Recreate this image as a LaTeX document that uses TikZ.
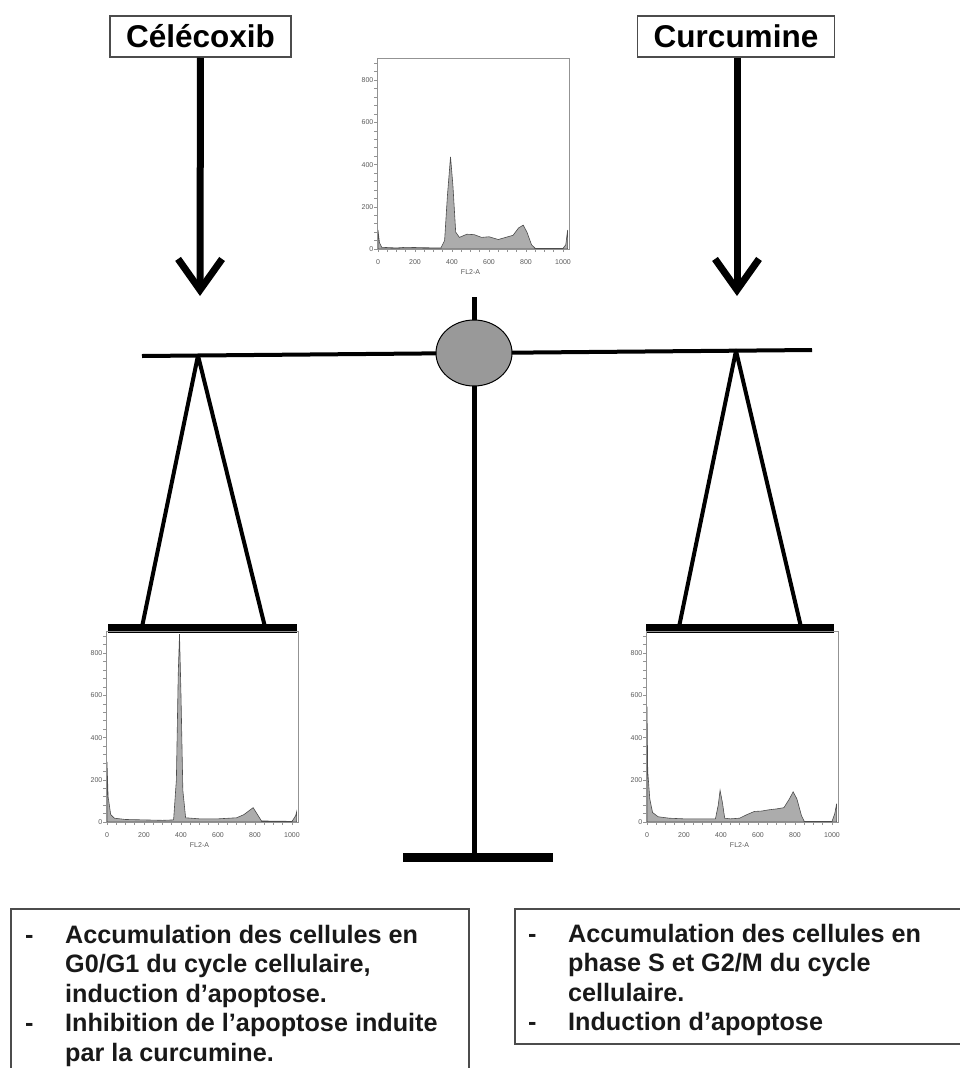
\documentclass[tikz,border=0pt]{standalone}
\usepackage{fontspec}
\setmainfont{Liberation Sans}
\usepackage{tikz}
\usetikzlibrary{arrows.meta}

% histogramme (origine x, origine y, points)
\newcommand{\histogramme}[3]{%
  \begin{scope}[shift={(#1,#2)}, xscale=0.185, yscale=-0.211]
    \filldraw[histfill] plot coordinates {#3} -- cycle;
    \draw[histframe] (-5,0) rectangle (1032,905);
    \foreach \t in {0,40,...,880} \draw[histframe] (-5,\t) -- ++(-14,0);
    \foreach \t in {0,50,...,1000} \draw[histframe] (\t,0) -- ++(0,-12);
    \foreach \v in {0,200,...,800} \node[histlabel, anchor=east] at (-24,\v) {\v};
    \foreach \v in {0,200,...,1000} \node[histlabel] at (\v,-64) {\v};
    \node[histlabel] at (500,-110) {FL2-A};
  \end{scope}}

\begin{document}
\begin{tikzpicture}[x=1pt, y=-1pt, >={Straight Barb[length=31pt, width=44pt]},
  drugbox/.style={draw=black!70, line width=1.5pt, fill=white, minimum height=41pt, inner sep=0pt, font=\fontsize{31.5}{36}\selectfont\bfseries},
  effectbox/.style={draw=black!70, line width=1.5pt, anchor=north west, inner sep=0pt},
  effecttext/.style={anchor=north west, inner sep=0pt, align=left, text=black!90, font=\fontsize{25.2}{29.5}\selectfont\bfseries},
  histfill/.style={fill=gray!65, draw=gray!60!black, line width=0.6pt},
  histframe/.style={draw=gray!85, line width=0.6pt},
  histlabel/.style={font=\fontsize{7}{8}\selectfont, text=gray!70!black, inner sep=0pt},
  beam/.style={line width=4pt, line join=round},
  plate/.style={line width=9pt}]
  \useasboundingbox (0,0) rectangle (959,1068);

  % 点
  \coordinate (beamL) at (142,356);
  \coordinate (beamR) at (812,350);
  \coordinate (pivot) at (474,353);
  \coordinate (postT) at (474,297);
  \coordinate (postB) at (474,857);
  \coordinate (apexL) at (198,355.5);
  \coordinate (apexR) at (736,350.7);
  \coordinate (panL1) at (142,627);
  \coordinate (panL2) at (265,627);
  \coordinate (panR1) at (679,627);
  \coordinate (panR2) at (801,627);
  \coordinate (hitL) at (200,296);
  \coordinate (hitR) at (737,296);

  % 天平
  \draw[line width=5pt] (postT) -- (postB);
  \draw[plate] (403,857) -- (553,857);
  \draw[beam] (beamL) -- (beamR);
  \draw[line width=1pt, fill=gray!80] (pivot) ellipse [x radius=38, y radius=33];
  \draw[beam] (panL1) -- (apexL) -- (panL2);
  \draw[beam] (panR1) -- (apexR) -- (panR2);
  \draw[plate] (108,628) -- (297,628);
  \draw[plate] (646,628) -- (834,628);

  % 直方图
  \histogramme{378}{249}{(0,0) (0,90) (8,30) (20,8) (100,5) (150,8) (250,6) (340,5) (360,40) (375,250) (392,437) (405,300) (420,80) (440,55) (480,70) (520,68) (560,55) (600,58) (650,45) (690,55) (730,65) (760,100) (785,113) (805,80) (830,20) (850,3) (1000,3) (1015,20) (1025,90) (1025,0)}
  \histogramme{107}{822}{(0,0) (0,285) (6,120) (20,35) (40,18) (100,12) (200,10) (300,8) (360,10) (375,200) (385,700) (392,890) (400,600) (410,150) (425,20) (500,15) (600,15) (700,20) (740,35) (770,55) (790,68) (810,40) (835,5) (1000,3) (1020,30) (1025,48) (1025,0)}
  \histogramme{647}{822}{(0,0) (0,547) (4,240) (15,110) (30,45) (60,25) (120,18) (200,15) (300,15) (370,15) (385,80) (395,150) (408,90) (420,18) (450,15) (500,18) (540,35) (580,50) (620,52) (660,58) (700,62) (740,68) (770,110) (790,143) (810,110) (835,30) (850,3) (1000,3) (1015,40) (1025,87) (1025,0)}

  % 药物
  \node[drugbox, minimum width=181pt] (celecoxib) at (200.5,36.5) {Célécoxib};
  \node[drugbox, minimum width=197pt] (curcumine) at (736,36.5) {Curcumine};
  \draw[->, line width=7pt] (celecoxib) -- (hitL);
  \draw[->, line width=7pt] (curcumine.south -| hitR) -- (hitR);

  % 效果
  \node[effectbox, minimum width=458pt, minimum height=200pt] (boxcelecoxib) at (10,908) {};
  \node[effectbox, minimum width=455pt, minimum height=135pt] (boxcurcumine) at (514,908) {};
  \node[effecttext] (txtcelecoxib) at (25,922.4) {\strut\makebox[40pt][l]{-}Accumulation des cellules en\\
    \hspace*{40pt}G0/G1 du cycle cellulaire,\\
    \hspace*{40pt}induction d’apoptose.\\
    \makebox[40pt][l]{-}Inhibition de l’apoptose induite\\
    \hspace*{40pt}par la curcumine.};
  \node[effecttext] (txtcurcumine) at (528,921.4) {\strut\makebox[40pt][l]{-}Accumulation des cellules en\\
    \hspace*{40pt}phase S et G2/M du cycle\\
    \hspace*{40pt}cellulaire.\\
    \makebox[40pt][l]{-}Induction d’apoptose};
\end{tikzpicture}
\end{document}
